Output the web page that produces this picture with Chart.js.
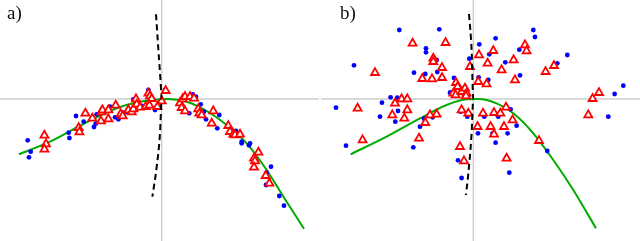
<!DOCTYPE html>
<html>
<head>
<meta charset="utf-8">
<script src="https://cdn.jsdelivr.net/npm/chart.js@4/dist/chart.umd.min.js"></script>
<style>
  html, body { margin: 0; padding: 0; background: #fff; }
  #wrap { position: relative; width: 640px; height: 241px; overflow: hidden; }
  canvas { position: absolute; top: 0; }
  #ca { left: 0; }
  #cb { left: 320px; }
  .lbl { position: absolute; font-family: "Liberation Serif", "DejaVu Serif", serif; font-size: 19px; color: #111; line-height: 1; }
</style>
</head>
<body>
<div id="wrap">
  <canvas id="ca" width="320" height="241"></canvas>
  <canvas id="cb" width="320" height="241"></canvas>
  <div class="lbl" style="left:7px; top:3px;">a)</div>
  <div class="lbl" style="left:340px; top:3px;">b)</div>
</div>
<script>
// ---------- Panel a data ----------
const aBlue = [
  [-13.4,-4.13],[-13.1,-5.27],[-13.27,-5.83],[-9.3,-3.37],[-9.23,-3.9],[-8.57,-1.7],
  [-7.8,-2.27],[-6.77,-2.8],[-6.6,-2.47],[-6.5,-1.53],[-5.17,-0.77],[-4.67,-1.83],
  [-4.33,-2.03],[-3.77,-1.37],[-3.5,-1.27],[-2.83,-0.03],[-2.6,-0.37],[-2.23,-0.83],
  [-2.0,-0.7],[-1.33,0.9],[-1.2,0.23],[-0.67,-1.1],[-0.1,-0.27],[0.33,0.9],[3.1,0.47],
  [3.43,0.23],[3.9,-0.53],[4.23,-1.27],[2.76,-1.43],[4.43,-2.03],[5.76,-1.6],[5.56,-2.93],
  [7.43,-3.2],[8.0,-4.27],[8.0,-4.43],[8.73,-4.63],[8.83,-4.43],[10.93,-6.77],
  [10.5,-7.37],[10.43,-8.6],[11.76,-9.7],[12.23,-10.67]
];
const aTri = [
  [-11.73,-3.63],[-11.57,-4.5],[-11.73,-5.03],[-8.3,-2.87],[-8.23,-3.3],[-7.63,-1.43],
  [-6.93,-1.93],[-6.03,-1.3],[-5.93,-1.1],[-6.07,-2.2],[-5.33,-1.1],[-5.33,-2.0],
  [-4.6,-0.63],[-4.1,-1.5],[-3.9,-1.7],[-3.33,-1.1],[-3.0,-1.3],[-2.83,-1.0],
  [-2.57,0.0],[-2.5,-0.53],[-2.17,-0.83],[-1.6,-0.77],[-1.33,0.57],[-1.17,0.3],
  [-1.0,0.03],[-1.23,-0.63],[-0.43,-0.77],[0.0,-0.2],[0.4,0.83],[1.83,-0.4],
  [2.1,0.0],[2.33,0.23],[2.83,0.23],[3.23,0.07],[2.0,-0.87],[2.33,-1.2],[3.66,-1.0],
  [3.76,-1.43],[4.0,-1.6],[5.16,-1.2],[5.0,-2.43],[6.66,-2.67],[6.83,-3.27],[7.16,-3.53],
  [7.33,-3.6],[7.83,-3.53],[9.67,-5.33],[9.23,-5.93],[9.33,-6.2],[9.23,-6.83],
  [10.4,-7.67],[10.77,-8.43]
];
const aGreen = [
  [-14.27,-5.53],[-11.17,-4.27],[-7.83,-2.5],[-4.5,-0.93],[-2.17,-0.27],[0.5,0.0],
  [2.5,-0.27],[4.5,-1.2],[6.5,-2.6],[8.5,-4.43],[10.5,-7.1],[12.17,-9.77],[14.23,-12.97]
];
const aDash = [
  [-0.57,8.47],[-0.33,4.9],[-0.1,1.57],[0.0,0.0],[-0.17,-3.43],[-0.5,-6.77],[-0.93,-9.77]
];

// ---------- Panel b data ----------
const bBlue = [
  [-7.4,6.9],[-3.4,6.97],[-11.93,3.37],[-4.73,5.07],[-4.73,4.67],[-3.67,3.9],[-5.93,2.63],
  [-4.8,2.5],[-3.6,2.7],[-0.4,4.03],[0.6,5.47],[1.6,4.47],[2.23,6.07],[3.2,3.67],
  [4.6,4.93],[6.0,6.9],[6.17,6.2],[8.4,3.57],[9.4,4.4],[4.67,2.37],[1.5,1.9],[0.53,2.17],
  [-1.93,2.1],[-2.33,0.63],[-2.27,0.63],[-8.27,0.17],[-7.6,0.13],[-9.13,-0.37],[-7.53,-1.2],
  [-9.33,-1.77],[-7.8,-2.27],[-13.73,-0.87],[-12.73,-4.67],[-5.33,-2.77],[-4.93,-1.97],
  [-4.07,-1.83],[-6.0,-4.83],[-1.53,-6.13],[-1.17,-7.9],[-1.27,-1.27],[-0.6,-1.77],
  [1.1,-1.77],[0.47,-3.43],[1.93,-3.43],[2.23,-4.37],[3.43,-3.43],[3.73,-1.03],
  [4.33,-2.67],[2.5,-1.77],[3.6,-7.37],[7.4,-5.2],[13.5,-1.77],[14.13,0.5],[15.0,1.33]
];
const bTri = [
  [-6.07,5.57],[-2.77,5.63],[-9.83,2.63],[-4.0,4.07],[-4.0,3.73],[-3.13,3.13],[-5.1,2.03],
  [-4.13,2.0],[-3.13,2.13],[-0.33,3.23],[0.57,4.4],[1.43,3.57],[2.0,4.83],[2.83,2.9],
  [4.03,3.9],[5.17,5.4],[5.33,4.8],[4.17,1.9],[7.23,2.73],[8.07,3.33],[0.5,1.73],
  [1.33,1.5],[-1.73,1.63],[-1.57,1.23],[-2.0,0.57],[-1.77,0.4],[-1.17,0.73],[-0.83,1.07],
  [-0.67,0.57],[-0.73,0.3],[-7.17,0.0],[-6.6,0.0],[-7.83,-0.43],[-6.6,-1.1],[-8.1,-1.6],
  [-6.9,-1.93],[-11.57,-0.93],[-11.07,-4.1],[-4.33,-1.6],[-3.67,-1.53],[-4.8,-2.37],
  [-5.43,-3.93],[-1.17,-1.1],[-0.5,-1.43],[-1.33,-4.77],[-0.93,-6.2],[0.43,-2.77],
  [0.97,-1.43],[2.07,-1.37],[2.7,-1.43],[3.27,-0.83],[1.73,-2.77],[2.07,-3.53],
  [3.07,-2.77],[3.93,-2.1],[6.57,-4.17],[3.33,-5.93],[11.5,-1.6],[11.93,0.03],[12.57,0.63]
];
const bGreen = [
  [-12.27,-5.53],[-8.67,-3.77],[-5.33,-1.93],[-2.67,-0.6],[-0.67,-0.03],[0.5,0.0],
  [2.33,-0.43],[4.0,-1.43],[6.0,-3.43],[8.0,-6.1],[10.0,-9.1],[12.27,-12.93]
];
const bDash = [
  [-0.43,8.5],[-0.17,4.9],[0.0,0.0],[-0.17,-3.43],[-0.43,-6.77],[-0.73,-9.6]
];

// ---------- view ranges (axes cross at 0,0) ----------
const aRange = { xmin: -16.17, xmax: 15.83, ymin: -14.2, ymax: 9.9, hx0: -16.17, hx1: 15.73 };
const bRange = { xmin: -15.33, xmax: 16.67, ymin: -14.2, ymax: 9.9, hx0: -15.23, hx1: 16.67 };

const toPts = arr => arr.map(p => ({ x: p[0], y: p[1] }));

function makeChart(id, blue, tri, green, dash, r) {
  const axisStyle = { showLine: true, borderColor: '#cccccc', borderWidth: 1.3, pointRadius: 0, fill: false, order: 6 };
  new Chart(document.getElementById(id), {
    type: 'scatter',
    data: {
      datasets: [
        Object.assign({ data: [{ x: r.hx0, y: 0 }, { x: r.hx1, y: 0 }] }, axisStyle),
        Object.assign({ data: [{ x: 0, y: r.ymin }, { x: 0, y: r.ymax }] }, axisStyle),
        { data: toPts(green), showLine: true, borderColor: '#00aa00', borderWidth: 2, pointRadius: 0,
          tension: 0.4, cubicInterpolationMode: 'monotone', fill: false, order: 5 },
        { data: toPts(blue), pointStyle: 'circle', pointRadius: 2.4, backgroundColor: '#0000ff',
          borderColor: '#0000ff', borderWidth: 0, order: 4, clip: false },
        { data: toPts(tri), pointStyle: 'triangle', pointRadius: 4.6, backgroundColor: '#ffffff',
          borderColor: '#ff0000', borderWidth: 1.8, order: 3, clip: false },
        { data: toPts(dash), showLine: true, borderColor: '#000000', borderWidth: 2, borderDash: [6, 4],
          pointRadius: 0, tension: 0.4, cubicInterpolationMode: 'monotone', fill: false, order: 2 }
      ]
    },
    options: {
      responsive: false,
      devicePixelRatio: 1,
      animation: false,
      layout: { padding: 0, autoPadding: false },
      plugins: { legend: { display: false }, tooltip: { enabled: false }, title: { display: false } },
      events: [],
      scales: {
        x: { type: 'linear', min: r.xmin, max: r.xmax, display: false },
        y: { type: 'linear', min: r.ymin, max: r.ymax, display: false }
      }
    }
  });
}

makeChart('ca', aBlue, aTri, aGreen, aDash, aRange);
makeChart('cb', bBlue, bTri, bGreen, bDash, bRange);
</script>
</body>
</html>
